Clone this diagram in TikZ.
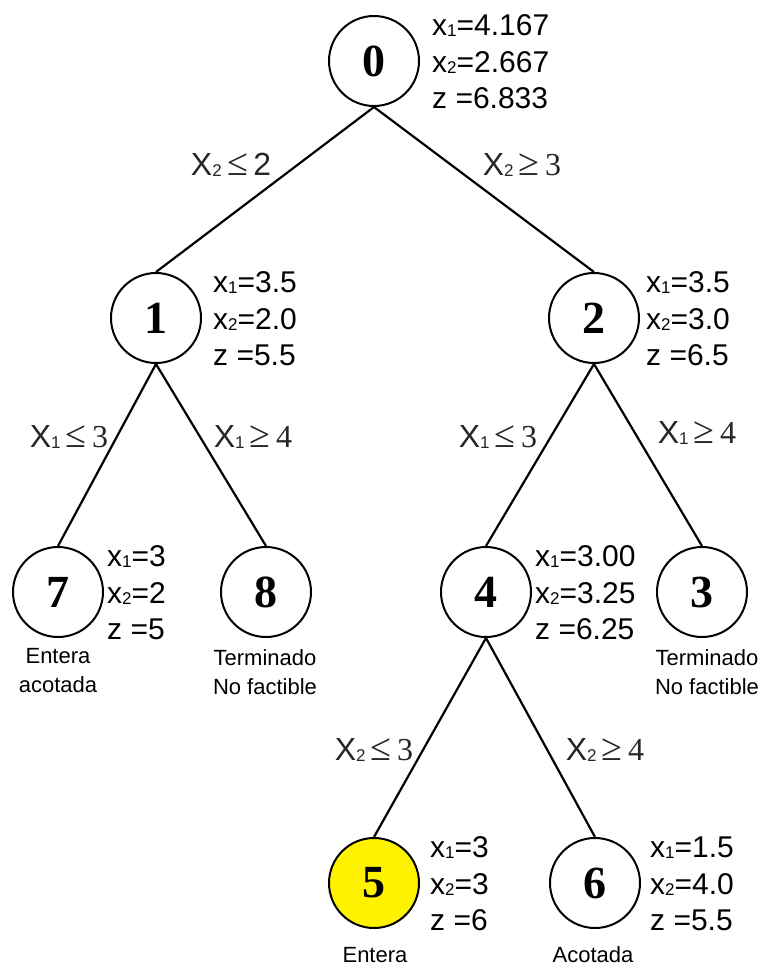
\documentclass[tikz,border=0pt]{standalone}
\usepackage{fontspec}
\setmainfont{Liberation Sans}
\newfontfamily\serifnum{Liberation Serif}
% small index digit used in x_1, x_2, X_1, X_2
\newcommand\sbs[1]{\raisebox{-1pt}{\fontsize{17}{17}\selectfont #1}}
% relation sign of a branching constraint
\newcommand\rel[1]{{\serifnum\fontsize{38}{38}\selectfont #1}}
% three-line solution block: name, x, y (centre line), line texts
\newcommand\datablock[6]{%
  \node[dat] (#1-a) at (#2,#3-26) {#4};
  \node[dat] (#1-b) at (#2,#3+11) {#5};
  \node[dat] (#1-c) at (#2,#3+47) {#6};}

\begin{document}
\begin{tikzpicture}[x=1pt,y=-1pt,
  state/.style={circle,draw,line width=2pt,minimum size=90pt,inner sep=0pt,
    font=\fontsize{46}{46}\selectfont\serifnum\bfseries},
  edge/.style={line width=2.2pt},
  dat/.style={anchor=base west,inner sep=0pt,font=\fontsize{30}{30}\selectfont},
  cond/.style={inner sep=0pt,text=black!85,font=\fontsize{32}{32}\selectfont},
  status/.style={inner sep=0pt,align=center,font=\fontsize{22}{29}\selectfont}]

\useasboundingbox (0,0) rectangle (762,967);

% tree nodes
\node[state] (n0) at (374,61) {0};
\node[state] (n1) at (156,318) {1};
\node[state] (n2) at (594,318) {2};
\node[state] (n7) at (58,592) {7};
\node[state] (n8) at (266,592) {8};
\node[state] (n4) at (486,592) {4};
\node[state] (n3) at (702,592) {3};
\node[state,fill=yellow] (n5) at (374,883) {5};
\node[state] (n6) at (595,883) {6};

% branches
\draw[edge] (n0.south) -- (n1.north);
\draw[edge] (n0.south) -- (n2.north);
\draw[edge] (n1.south) -- (n7.north);
\draw[edge] (n1.south) -- (n8.north);
\draw[edge] (n2.south) -- (n4.north);
\draw[edge] (n2.south) -- (n3.north);
\draw[edge] (n4.south) -- (n5.north);
\draw[edge] (n4.south) -- (n6.north);

% branching constraints
\node[cond] (c02) at (231,165) {X\sbs{2}\,\rel{≤}\,2};
\node[cond] (c03) at (522,165) {X\sbs{2}\,\rel{≥}\,{\serifnum 3}};
\node[cond] (c17) at (69,437) {X\sbs{1}\,\rel{≤}\,{\serifnum 3}};
\node[cond] (c18) at (253,437) {X\sbs{1}\,\rel{≥}\,{\serifnum 4}};
\node[cond] (c24) at (498,437) {X\sbs{1}\,\rel{≤}\,{\serifnum 3}};
\node[cond] (c23) at (697,433) {X\sbs{1}\,\rel{≥}\,{\serifnum 4}};
\node[cond] (c45) at (374,750) {X\sbs{2}\,\rel{≤}\,{\serifnum 3}};
\node[cond] (c46) at (605,750) {X\sbs{2}\,\rel{≥}\,{\serifnum 4}};

% LP solutions
\datablock{d0}{432}{61}{x\sbs{1}=4.167}{x\sbs{2}=2.667}{z =6.833}
\datablock{d1}{213}{318}{x\sbs{1}=3.5}{x\sbs{2}=2.0}{z =5.5}
\datablock{d2}{646}{318}{x\sbs{1}=3.5}{x\sbs{2}=3.0}{z =6.5}
\datablock{d7}{107}{592}{x\sbs{1}=3}{x\sbs{2}=2}{z =5}
\datablock{d4}{535}{592}{x\sbs{1}=3.00}{x\sbs{2}=3.25}{z =6.25}
\datablock{d5}{430}{883}{x\sbs{1}=3}{x\sbs{2}=3}{z =6}
\datablock{d6}{650}{883}{x\sbs{1}=1.5}{x\sbs{2}=4.0}{z =5.5}

% node status
\node[status] (s7) at (58,671) {Entera\\acotada};
\node[status] (s8) at (265,672) {Terminado\\No factible};
\node[status] (s3) at (707,672) {Terminado\\No factible};
\node[status] (s5) at (375,955) {Entera};
\node[status] (s6) at (593,955) {Acotada};
\end{tikzpicture}
\end{document}
